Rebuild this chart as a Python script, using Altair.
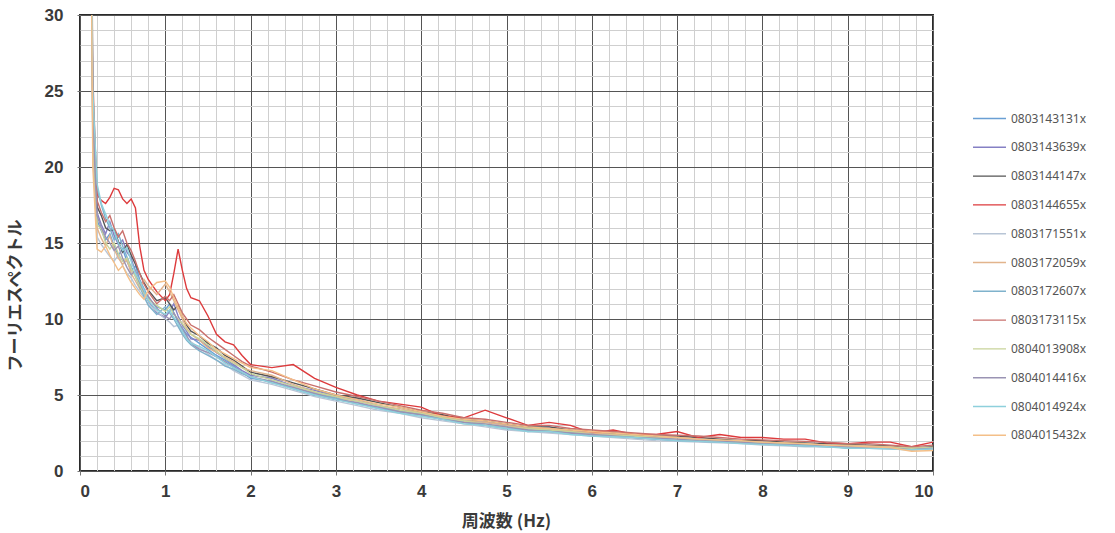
import altair as alt
import pandas as pd

FREQ = [0.12, 0.15, 0.2, 0.25, 0.3, 0.35, 0.4, 0.45, 0.5, 0.55, 0.6, 0.65, 0.7, 0.75, 0.8,
        0.9, 1.0, 1.05, 1.1, 1.15, 1.2, 1.25, 1.3, 1.4, 1.5, 1.6, 1.7, 1.8, 1.9, 2.0,
        2.25, 2.5, 2.75, 3.0, 3.25, 3.5, 3.75, 4.0,
        4.25, 4.5, 4.75, 5.0, 5.25, 5.5, 5.75, 6.0,
        6.25, 6.5, 6.75, 7.0, 7.25, 7.5, 7.75, 8.0,
        8.25, 8.5, 8.75, 9.0, 9.25, 9.5, 9.75, 10.0]

SERIES_NAMES = ["0803143131x", "0803143639x", "0803144147x", "0803144655x",
                "0803171551x", "0803172059x", "0803172607x", "0803173115x",
                "0804013908x", "0804014416x", "0804014924x", "0804015432x"]

COLORS = ["#6a9fd4", "#8580c4", "#555555", "#dd3a3c",
          "#b8c5d6", "#e2b48c", "#7fb2cc", "#c9706c",
          "#c8d39a", "#9a93b3", "#8ed0dc", "#f4bf88"]

S01 = [44, 22, 16.5, 15.8, 15.2, 15.6, 14.8, 14.2, 14.6, 13.8, 13.2, 13.5, 12.6, 12.0, 11.4,
       10.8, 10.6, 11.0, 10.4, 9.8, 9.4, 9.0, 8.8, 8.4, 8.0, 7.6, 7.3, 6.9, 6.5, 6.1,
       5.9, 5.4, 5.0, 4.7, 4.5, 4.1, 3.9, 3.7,
       3.4, 3.2, 3.0, 2.9, 2.6, 2.7, 2.5, 2.3,
       2.4, 2.2, 2.1, 2.0, 2.05, 1.95, 1.85, 1.8,
       1.75, 1.7, 1.65, 1.5, 1.55, 1.5, 1.45, 1.5]
S02 = [46, 23, 17.0, 16.2, 15.6, 16.4, 15.5, 14.9, 15.2, 14.4, 14.0, 13.1, 12.2, 11.7, 11.2,
       10.4, 10.1, 10.5, 11.0, 10.2, 9.6, 9.2, 8.7, 8.6, 8.2, 7.8, 7.4, 7.0, 6.6, 6.3,
       6.1, 5.6, 5.3, 4.9, 4.7, 4.3, 4.0, 3.8,
       3.6, 3.3, 3.2, 3.0, 2.8, 2.9, 2.6, 2.5,
       2.4, 2.3, 2.25, 2.2, 2.1, 2.0, 1.95, 1.9,
       1.8, 1.75, 1.7, 1.65, 1.6, 1.55, 1.45, 1.55]
S03 = [47, 24, 17.4, 16.8, 16.0, 15.8, 15.9, 15.1, 14.4, 14.9, 14.2, 13.6, 13.0, 12.4, 11.9,
       11.2, 11.4, 11.0, 10.6, 10.9, 10.2, 9.6, 9.2, 8.9, 8.4, 8.1, 7.6, 7.3, 6.9, 6.5,
       6.2, 5.8, 5.4, 5.0, 4.8, 4.5, 4.2, 3.9,
       3.7, 3.4, 3.3, 3.1, 2.9, 2.9, 2.7, 2.6,
       2.5, 2.4, 2.3, 2.3, 2.2, 2.1, 2.0, 2.0,
       1.9, 1.85, 1.8, 1.75, 1.7, 1.65, 1.5, 1.6]
S04 = [45, 24, 18.2, 17.8, 17.6, 18.0, 18.6, 18.5, 17.9, 17.6, 17.9, 17.3, 14.8, 13.2, 12.6,
       11.8, 11.2, 11.6, 13.0, 14.6, 13.2, 12.0, 11.4, 11.2, 10.2, 9.0, 8.5, 8.3, 7.6, 7.0,
       6.8, 7.0, 6.1, 5.5, 5.0, 4.6, 4.4, 4.2,
       3.6, 3.5, 4.0, 3.5, 3.0, 3.2, 3.0, 2.5,
       2.7, 2.4, 2.4, 2.6, 2.2, 2.4, 2.2, 2.2,
       2.1, 2.1, 1.85, 1.8, 1.9, 1.9, 1.6, 1.9]
S05 = [44, 21, 15.4, 14.9, 14.5, 14.1, 13.8, 14.2, 13.5, 13.0, 12.7, 12.2, 11.8, 11.4, 11.0,
       10.5, 10.0, 9.8, 9.5, 9.6, 9.1, 8.8, 8.5, 8.1, 7.7, 7.3, 7.0, 6.6, 6.3, 6.0,
       5.7, 5.3, 4.9, 4.6, 4.3, 4.0, 3.8, 3.5,
       3.3, 3.1, 2.9, 2.7, 2.6, 2.5, 2.4, 2.3,
       2.2, 2.1, 2.0, 1.95, 1.9, 1.85, 1.8, 1.7,
       1.65, 1.6, 1.6, 1.55, 1.5, 1.45, 1.4, 1.45]
S06 = [45, 22, 16.0, 15.3, 14.8, 15.5, 14.6, 14.0, 13.6, 13.9, 13.0, 12.5, 12.0, 12.6, 12.2,
       11.6, 12.3, 11.8, 11.2, 10.6, 10.0, 9.4, 9.0, 8.6, 8.1, 7.8, 7.5, 7.2, 6.8, 6.6,
       6.3, 5.7, 5.2, 4.8, 4.6, 4.3, 4.1, 3.8,
       3.5, 3.3, 3.2, 3.0, 2.8, 2.8, 2.6, 2.5,
       2.4, 2.3, 2.2, 2.2, 2.1, 2.0, 1.95, 1.9,
       1.85, 1.8, 1.7, 1.7, 1.65, 1.6, 1.5, 1.55]
S07 = [47, 25, 18.6, 17.5, 16.6, 16.0, 15.2, 15.6, 14.8, 14.1, 13.4, 12.8, 12.1, 11.5, 10.9,
       10.3, 10.8, 10.4, 10.0, 9.5, 9.0, 8.6, 8.3, 7.9, 7.6, 7.3, 6.9, 6.7, 6.4, 6.2,
       5.8, 5.5, 5.1, 4.8, 4.4, 4.2, 3.9, 3.7,
       3.5, 3.2, 3.0, 2.8, 2.7, 2.6, 2.5, 2.4,
       2.3, 2.2, 2.1, 2.0, 1.95, 1.9, 1.85, 1.8,
       1.7, 1.65, 1.6, 1.6, 1.55, 1.5, 1.45, 1.5]
S08 = [48, 26, 17.8, 17.0, 16.4, 16.8, 16.0, 15.4, 15.8, 15.0, 14.5, 13.8, 13.0, 12.3, 11.8,
       11.0, 11.5, 11.2, 11.6, 11.0, 10.4, 10.0, 9.6, 9.3, 8.8, 8.4, 8.0, 7.6, 7.2, 6.9,
       6.5, 6.0, 5.6, 5.2, 4.9, 4.6, 4.3, 4.0,
       3.8, 3.5, 3.4, 3.2, 3.0, 3.0, 2.8, 2.7,
       2.6, 2.5, 2.4, 2.35, 2.3, 2.2, 2.1, 2.05,
       2.0, 1.95, 1.9, 1.8, 1.8, 1.7, 1.6, 1.7]
S09 = [45, 22, 16.2, 15.9, 15.0, 14.6, 15.0, 14.3, 13.8, 14.0, 13.3, 12.8, 12.2, 11.7, 11.3,
       10.9, 10.5, 10.8, 10.3, 10.0, 9.7, 9.3, 9.0, 8.7, 8.3, 7.9, 7.4, 7.1, 6.8, 6.4,
       6.0, 5.6, 5.2, 4.9, 4.6, 4.3, 4.0, 3.8,
       3.5, 3.3, 3.1, 2.9, 2.8, 2.7, 2.6, 2.4,
       2.35, 2.3, 2.2, 2.1, 2.0, 1.95, 1.9, 1.85,
       1.8, 1.75, 1.7, 1.65, 1.6, 1.55, 1.5, 1.55]
S10 = [46, 23, 16.8, 16.0, 15.4, 15.0, 14.5, 14.8, 14.0, 13.4, 12.9, 13.2, 12.4, 11.8, 11.5,
       10.7, 10.2, 10.0, 10.4, 9.9, 9.3, 8.9, 8.4, 8.0, 7.8, 7.5, 7.2, 6.8, 6.5, 6.2,
       5.9, 5.5, 5.1, 4.7, 4.5, 4.2, 3.9, 3.7,
       3.4, 3.2, 3.1, 2.9, 2.7, 2.6, 2.5, 2.4,
       2.3, 2.2, 2.15, 2.1, 2.0, 1.95, 1.9, 1.8,
       1.75, 1.7, 1.65, 1.6, 1.55, 1.5, 1.4, 1.5]
S11 = [47, 25, 18.9, 17.6, 16.9, 16.2, 15.8, 15.0, 14.5, 14.7, 13.8, 13.0, 12.5, 11.9, 11.2,
       10.6, 10.3, 10.6, 10.1, 9.7, 9.2, 8.7, 8.4, 8.2, 7.9, 7.5, 7.1, 6.8, 6.5, 6.2,
       5.8, 5.4, 5.0, 4.7, 4.4, 4.1, 3.8, 3.6,
       3.4, 3.1, 3.0, 2.8, 2.6, 2.6, 2.4, 2.3,
       2.25, 2.2, 2.1, 2.0, 1.95, 1.9, 1.8, 1.75,
       1.7, 1.65, 1.6, 1.5, 1.5, 1.45, 1.4, 1.45]
S12 = [44, 20, 14.6, 14.4, 14.8, 14.2, 13.7, 13.2, 13.5, 12.9, 12.4, 12.0, 11.6, 11.3, 11.9,
       12.4, 12.5, 12.1, 11.4, 10.8, 10.2, 9.7, 9.4, 8.9, 8.5, 8.0, 7.7, 7.4, 7.1, 6.8,
       6.6, 6.0, 5.4, 5.0, 4.7, 4.4, 4.2, 3.9,
       3.6, 3.4, 3.3, 3.1, 2.9, 2.8, 2.7, 2.6,
       2.5, 2.4, 2.3, 2.2, 2.1, 2.05, 2.0, 1.9,
       1.85, 1.8, 1.7, 1.65, 1.6, 1.55, 1.3, 1.35]

X_MAJOR = [0, 1, 2, 3, 4, 5, 6, 7, 8, 9, 10]
X_MINOR = [round(v * 0.2, 1) for v in range(0, 51)]
Y_MAJOR = [0, 5, 10, 15, 20, 25, 30]
Y_MINOR = list(range(0, 31))

X_TITLE = "周波数 (Hz)"
Y_TITLE = "フーリエスペクトル"

ALL = [S01, S02, S03, S04, S05, S06, S07, S08, S09, S10, S11, S12]
rows = []
for name, vals in zip(SERIES_NAMES, ALL):
    for f, v in zip(FREQ, vals):
        rows.append({"freq": f, "amp": v, "series": name})
df = pd.DataFrame(rows)

TICK_FONT = "Liberation Sans"
CJK = "Noto Sans CJK JP"

xscale = alt.Scale(domain=[0, 10], nice=False, zero=False)
yscale = alt.Scale(domain=[0, 30], nice=False)

minor = alt.Chart(df).mark_line(opacity=0).encode(
    x=alt.X("freq:Q", scale=xscale,
            axis=alt.Axis(orient="bottom", values=X_MINOR, grid=True, gridColor="#cfcfcf",
                          gridWidth=1, labels=False, ticks=False, domain=False, title=None)),
    y=alt.Y("amp:Q", scale=yscale,
            axis=alt.Axis(orient="left", values=Y_MINOR, grid=True, gridColor="#cfcfcf",
                          gridWidth=1, labels=False, ticks=False, domain=False, title=None)),
    detail="series:N",
)

main = alt.Chart(df).mark_line(strokeWidth=1.4, clip=True).encode(
    x=alt.X("freq:Q", scale=xscale,
            axis=alt.Axis(orient="bottom", values=X_MAJOR, grid=True, gridColor="#555555",
                          gridWidth=1, domain=False, ticks=True, tickSize=4, tickColor="#777777",
                          labelFont=TICK_FONT, labelFontSize=17, labelFontWeight="bold",
                          labelColor="#3a3a3a", labelPadding=8,
                          title=X_TITLE, titleFont=CJK, titleFontSize=17, titleFontWeight="bold",
                          titleColor="#3a3a3a", titleBaseline="middle", titleY=50, titleX=426)),
    y=alt.Y("amp:Q", scale=yscale,
            axis=alt.Axis(orient="left", values=Y_MAJOR, grid=True, gridColor="#555555",
                          gridWidth=1, domain=False, ticks=True, tickSize=3, tickColor="#777777",
                          labelFont=TICK_FONT, labelFontSize=17, labelFontWeight="bold",
                          labelColor="#3a3a3a", labelPadding=14,
                          title=Y_TITLE, titleFont=CJK, titleFontSize=17, titleFontWeight="bold",
                          titleColor="#3a3a3a", titleBaseline="middle", titleAngle=270,
                          titleX=-65, titleY=280)),
    color=alt.Color("series:N",
                    scale=alt.Scale(domain=SERIES_NAMES, range=COLORS),
                    legend=alt.Legend(orient="none", legendX=903, legendY=97, title=None,
                                      symbolType="M-3,0H3", symbolSize=121,
                                      symbolStrokeWidth=1.4, labelOffset=15, rowPadding=15.8,
                                      padding=0, labelFont="Noto Sans", labelFontSize=12,
                                      labelColor="#555555")),
)

chart = alt.layer(minor, main).resolve_axis(x="independent", y="independent").properties(
    width=853, height=456,
    autosize=alt.AutoSizeParams(type="none"),
    padding={"left": 80, "top": 15, "right": 182, "bottom": 62},
    background="white",
).configure_view(stroke="#2a2a2a", strokeWidth=2)

chart.save("out.html", embed_options={"renderer": "svg", "actions": False})
